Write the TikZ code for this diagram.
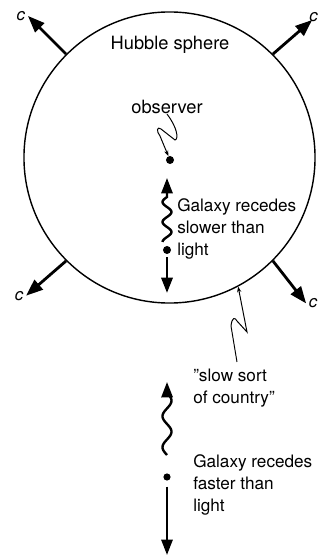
\documentclass[tikz,border=0pt]{standalone}
\usepackage{fontspec}
\setmainfont{TeX Gyre Heros}
\usetikzlibrary{arrows.meta}

\begin{document}
\begin{tikzpicture}[x=0.025cm, y=0.025cm,
    carrow/.style={line width=2pt, -{Triangle[length=12pt,width=9pt]}},
    galarrow/.style={line width=1.7pt, -{Triangle[length=11pt,width=8pt]}},
    pointer/.style={line width=0.7pt, -{Stealth[length=4pt,width=3pt]}},
    gdot/.style={circle, fill, inner sep=0pt, minimum size=#1},
    txt/.style={align=left, anchor=west, inner sep=0pt, font=\fontsize{12.2}{15.5}\selectfont},
    speed/.style={font=\itshape\fontsize{12}{12}\selectfont, inner sep=1pt}]
    \useasboundingbox (0,0) rectangle (320,555);

    % Sphere
    \node[circle, draw, line width=1pt, minimum size=7.275cm, inner sep=0pt] (sphere) at (169.5,397.5) {};
    \node[txt, anchor=center, font=\fontsize{13}{15}\selectfont] (hubble) at (170,510) {Hubble sphere};

    % c arrows
    \draw[carrow] (sphere.135) -- ++(135:54) node[speed, anchor=east] {c};
    \draw[carrow] (sphere.45) -- ++(41:52) node[speed, anchor=south west, xshift=-4pt, yshift=-3pt] {c};
    \draw[carrow] (sphere.-45) -- ++(-52:54) node[speed, anchor=west] {c};
    \draw[carrow] (sphere.-135) -- ++(-139:53) node[speed, anchor=east] {c};

    % Observer
    \node[txt, anchor=center, font=\fontsize{13}{15}\selectfont] (observer) at (167,448) {observer};
    \node[gdot=0.2cm] (obsdot) at (170,395) {};
    \draw[pointer] (observer.south) .. controls (177,428) and (179,416) .. (175,415)
        -- (161,426) .. controls (157,429) and (156,424) .. (160,419) -- (obsdot);

    % Galaxy inside
    \node[gdot=0.2cm] (near) at (167,305) {};
    \coordinate (neartip) at (167,377);
    \coordinate (nearend) at (167,262);
    \draw[galarrow] plot[domain=45:0, samples=40] ({167-4.5*sin(\x*18)}, {358-\x}) -- (neartip);
    \draw[galarrow, line width=2pt, shorten <=2pt] (near.south) -- (nearend);
    \node[txt] (slower) at (177,326) {Galaxy recedes\\slower than\\light};

    % Galaxy outside
    \node[gdot=0.18cm] (far) at (167,78) {};
    \coordinate (fartip) at (167,173);
    \coordinate (farend) at (167,0);
    \draw[galarrow] plot[domain=0:62, samples=50] ({167-4.5*sin(\x*11.6)}, {100+\x}) -- (fartip);
    \draw[galarrow, shorten <=4pt] (far.south) -- (farend);
    \node[txt] (faster) at (193,70) {Galaxy recedes\\faster than\\light};

    % Country
    \node[txt] (country) at (193,167) {''slow sort\\of country''};
    \coordinate (cstart) at (237,193);
    \draw[pointer] (cstart) -- (231,229) .. controls (232,238) and (235,238) .. (237,234)
        -- (247,223) -- (sphere.-62.5);
\end{tikzpicture}
\end{document}
